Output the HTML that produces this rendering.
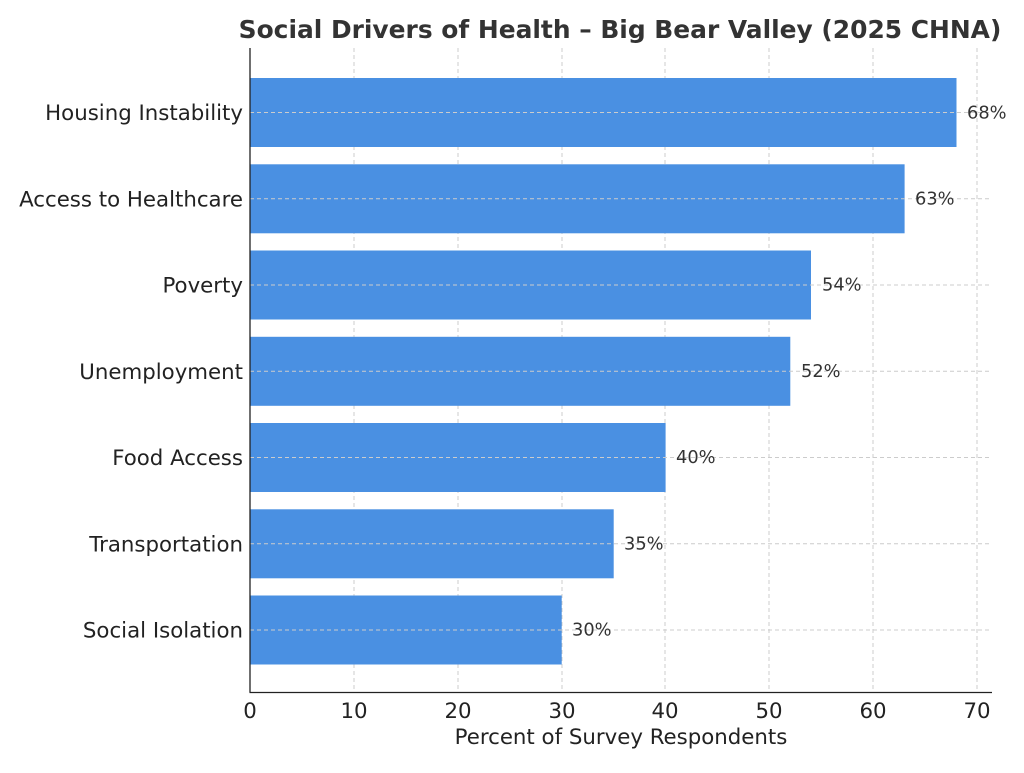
<!DOCTYPE html>
<html><head><meta charset="utf-8"><style>
body{margin:0;background:#fff;}
svg text{font-family:"DejaVu Sans","Liberation Sans",sans-serif;}
</style></head><body>
<svg width="1024" height="768" viewBox="0 0 1024 768" xmlns="http://www.w3.org/2000/svg">
<rect width="1024" height="768" fill="#fff"/>
<text x="620" y="38" text-anchor="middle" font-size="24.9" font-weight="bold" fill="#333">Social Drivers of Health – Big Bear Valley (2025 CHNA)</text>
<g stroke="#ccc" stroke-width="1" stroke-dasharray="4,3">
<line x1="354" y1="48" x2="354" y2="692"/><line x1="458" y1="48" x2="458" y2="692"/>
<line x1="562" y1="48" x2="562" y2="692"/><line x1="665" y1="48" x2="665" y2="692"/>
<line x1="769" y1="48" x2="769" y2="692"/><line x1="873" y1="48" x2="873" y2="692"/>
<line x1="977" y1="48" x2="977" y2="692"/>
</g>
<g fill="#4a90e2">
<rect x="250" y="78" width="706.5" height="69"/>
<rect x="250" y="164.3" width="654.6" height="69"/>
<rect x="250" y="250.5" width="561" height="69"/>
<rect x="250" y="336.8" width="540.3" height="69"/>
<rect x="250" y="423" width="415.6" height="69"/>
<rect x="250" y="509.3" width="363.7" height="69"/>
<rect x="250" y="595.5" width="311.7" height="69"/>
</g>
<g stroke="#ccc" stroke-width="1" stroke-dasharray="4,3">
<line x1="250" y1="112.5" x2="992" y2="112.5"/><line x1="250" y1="198.8" x2="992" y2="198.8"/>
<line x1="250" y1="285" x2="992" y2="285"/><line x1="250" y1="371.3" x2="992" y2="371.3"/>
<line x1="250" y1="457.5" x2="992" y2="457.5"/><line x1="250" y1="543.8" x2="992" y2="543.8"/>
<line x1="250" y1="630" x2="992" y2="630"/>
</g>
<g stroke="#222" stroke-width="1.3">
<line x1="250" y1="48" x2="250" y2="692.5"/><line x1="249.5" y1="692.5" x2="992" y2="692.5"/>
</g>
<g font-size="17.8" fill="#333">
<text x="967" y="118.5">68%</text><text x="915" y="204.5">63%</text>
<text x="822" y="290.5">54%</text><text x="801" y="377">52%</text>
<text x="676" y="463">40%</text><text x="624" y="549.5">35%</text>
<text x="572" y="635.5">30%</text>
</g>
<g font-size="21.3" fill="#222" text-anchor="end">
<text x="243" y="120">Housing Instability</text><text x="243" y="206.5">Access to Healthcare</text>
<text x="243" y="292.5">Poverty</text><text x="243" y="379">Unemployment</text>
<text x="243" y="465">Food Access</text><text x="243" y="551.5">Transportation</text>
<text x="243" y="637.5">Social Isolation</text>
</g>
<g font-size="21.3" fill="#222" text-anchor="middle">
<text x="250" y="718">0</text><text x="354" y="718">10</text><text x="458" y="718">20</text>
<text x="562" y="718">30</text><text x="665" y="718">40</text><text x="769" y="718">50</text>
<text x="873" y="718">60</text><text x="977" y="718">70</text>
<text x="621" y="744">Percent of Survey Respondents</text>
</g>
</svg>
</body></html>
